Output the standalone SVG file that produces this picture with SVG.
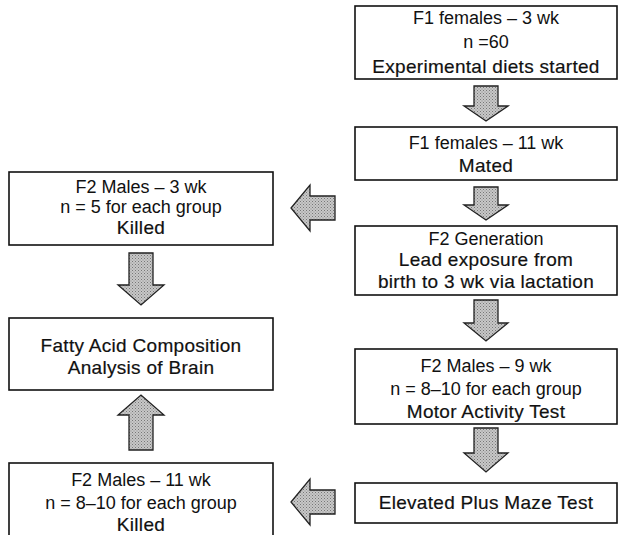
<svg xmlns="http://www.w3.org/2000/svg" width="620" height="535" viewBox="0 0 620 535">
<style>
.box{fill:#fff;stroke:#111;stroke-width:1.6}
text{font-family:"Liberation Sans",Arial,sans-serif;font-size:18px;fill:#111;text-anchor:middle}
.b{stroke:#111;stroke-width:0.2;font-size:19px;letter-spacing:0.3px}
.arr{fill:url(#dots);stroke:#222;stroke-width:1.3;stroke-linejoin:miter}
</style>
<defs>
<pattern id="dots" width="3" height="3" patternUnits="userSpaceOnUse">
<rect width="3" height="3" fill="#c8c8c8"/>
<rect width="1" height="1" fill="#777"/>
<rect x="1.5" y="1.5" width="1" height="1" fill="#888"/>
</pattern>
</defs>
<rect width="620" height="535" fill="#fff"/>

<g id="connectors">
<path class="arr" d="M474,86 H498 V106 H508 L486,121 L464,106 H474 Z"/>
<path class="arr" d="M474,187 H498 V205 H508 L486,220 L464,205 H474 Z"/>
<path class="arr" d="M474,300 H498 V323 H508 L486,341 L464,323 H474 Z"/>
<path class="arr" d="M474,428 H498 V453 H508 L486,472 L464,453 H474 Z"/>
<path class="arr" d="M129,253 H153 V285 H164 L141,305 L118,285 H129 Z"/>
<path class="arr" d="M129,450 H153 V415 H164 L141,395 L118,415 H129 Z"/>
<path class="arr" d="M335,196 V220 H310 V231 L291,208 L310,185 V196 Z"/>
<path class="arr" d="M335,490 V514 H310 V525 L291,502 L310,479 V490 Z"/>
</g>

<g id="n1">
<rect class="box" x="355" y="6" width="262" height="73"/>
<text x="486" y="24">F1 females – 3 wk</text>
<text x="486" y="48">n =60</text>
<text class="b" x="486" y="73">Experimental diets started</text>
</g>
<g id="n2">
<rect class="box" x="355" y="127" width="262" height="53"/>
<text x="486" y="149">F1 females – 11 wk</text>
<text class="b" x="486" y="172">Mated</text>
</g>
<g id="n3">
<rect class="box" x="355" y="226" width="262" height="69"/>
<text x="486" y="245">F2 Generation</text>
<text class="b" x="486" y="266">Lead exposure from</text>
<text class="b" x="486" y="288">birth to 3 wk via lactation</text>
</g>
<g id="n4">
<rect class="box" x="355" y="349" width="262" height="75"/>
<text x="486" y="372">F2 Males – 9 wk</text>
<text x="486" y="395">n = 8–10 for each group</text>
<text class="b" x="486" y="418">Motor Activity Test</text>
</g>
<g id="n5">
<rect class="box" x="355" y="483" width="262" height="40"/>
<text class="b" x="486" y="509">Elevated Plus Maze Test</text>
</g>
<g id="l1">
<rect class="box" x="9" y="172" width="264" height="73"/>
<text x="141" y="193">F2 Males – 3 wk</text>
<text x="141" y="213">n = 5 for each group</text>
<text class="b" x="141" y="234">Killed</text>
</g>
<g id="l2">
<rect class="box" x="9" y="318" width="264" height="72"/>
<text class="b" x="141" y="352">Fatty Acid Composition</text>
<text class="b" x="141" y="374">Analysis of Brain</text>
</g>
<g id="l3">
<rect class="box" x="9" y="463" width="264" height="80"/>
<text x="141" y="486">F2 Males – 11 wk</text>
<text x="141" y="509">n = 8–10 for each group</text>
<text class="b" x="141" y="531">Killed</text>
</g>
</svg>
